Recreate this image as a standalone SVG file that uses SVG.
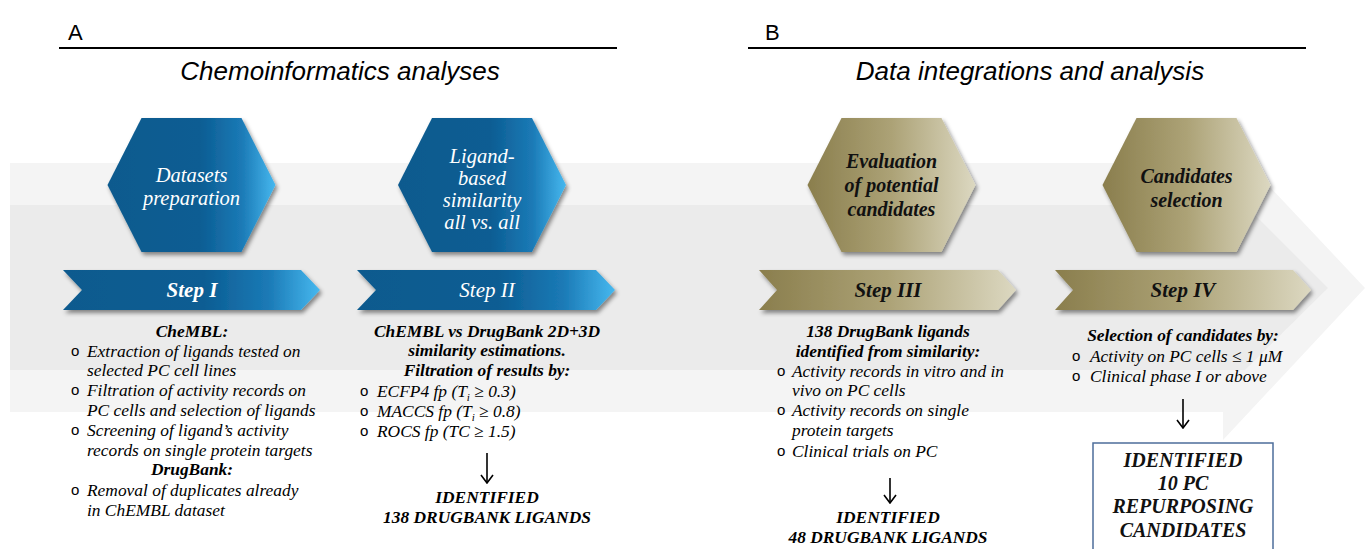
<svg xmlns="http://www.w3.org/2000/svg" width="1366" height="549" viewBox="0 0 1366 549">
<defs>
<linearGradient id="gBlue" x1="0" y1="0" x2="1" y2="0">
<stop offset="0" stop-color="#0a5a8e"/>
<stop offset="0.55" stop-color="#0c5d93"/>
<stop offset="0.8" stop-color="#1b7ab6"/>
<stop offset="1" stop-color="#46b8ef"/>
</linearGradient>
<linearGradient id="gGold" x1="0" y1="0" x2="1" y2="0">
<stop offset="0" stop-color="#8a7e4d"/>
<stop offset="0.5" stop-color="#aca276"/>
<stop offset="1" stop-color="#dcd8c1"/>
</linearGradient>
<filter id="sh" x="-10%" y="-10%" width="125%" height="130%">
<feDropShadow dx="2" dy="3" stdDeviation="2" flood-color="#000" flood-opacity="0.45"/>
</filter>
<marker id="ah" viewBox="0 0 10 14" refX="9" refY="7" markerWidth="10" markerHeight="14" markerUnits="userSpaceOnUse" orient="auto">
<path d="M1,1 L9,7 L1,13" fill="none" stroke="#000" stroke-width="1.6"/>
</marker>
</defs>
<style>
.hdr{font-family:"Liberation Sans",Arial,sans-serif;fill:#000}
.ttl{font-family:"Liberation Sans",Arial,sans-serif;font-style:italic;font-size:26px;fill:#000;text-anchor:middle}
.t{font-family:"Liberation Serif","Times New Roman",serif;font-style:italic;font-size:17.4px;fill:#000}
.b{font-weight:bold}
.c{text-anchor:middle}
.bul{font-family:"Liberation Sans",Arial,sans-serif;font-size:15px;fill:#000}
.hw{font-family:"Liberation Serif","Times New Roman",serif;font-style:italic;font-size:20.5px;fill:#fff;text-anchor:middle}
.hg{font-family:"Liberation Serif","Times New Roman",serif;font-style:italic;font-weight:bold;font-size:20px;fill:#111;text-anchor:middle}
.st{font-family:"Liberation Serif","Times New Roman",serif;font-style:italic;font-size:21px;text-anchor:middle}
.blue{fill:url(#gBlue);filter:url(#sh)}
.gold{fill:url(#gGold);filter:url(#sh)}
.conn line{stroke:#000;stroke-width:1.6;marker-end:url(#ah)}
</style>
<rect width="1366" height="549" fill="#fff"/>
<!-- background arrow -->
<polygon points="10,163 1223,163 1223,137 1365,288 1223,440 1223,412 10,412" fill="#f4f4f4"/>
<polygon points="10,205 1245,205 1328,288 1245,370 10,370" fill="#ebebeb"/>
<!-- headers -->
<text class="hdr" x="68" y="40" font-size="22">A</text>
<line x1="59" y1="48" x2="617" y2="48" stroke="#000" stroke-width="2"/>
<text class="ttl" x="340" y="80">Chemoinformatics analyses</text>
<text class="hdr" x="765" y="40" font-size="22">B</text>
<line x1="748" y1="48" x2="1306" y2="48" stroke="#000" stroke-width="2"/>
<text class="ttl" x="1030" y="80">Data integrations and analysis</text>
<!-- hexagons -->
<g id="hex1">
<polygon class="blue" points="141.5,118 241.5,118 275.5,185 241.5,252 141.5,252 107.5,185"/>
<text class="hw" x="191.5" y="182">Datasets</text>
<text class="hw" x="191.5" y="205">preparation</text>
</g>
<g id="hex2">
<polygon class="blue" points="432,118 532,118 566,185 532,252 432,252 398,185"/>
<text class="hw" x="482" y="163">Ligand-</text>
<text class="hw" x="482" y="185">based</text>
<text class="hw" x="482" y="207">similarity</text>
<text class="hw" x="482" y="229">all vs. all</text>
</g>
<g id="hex3">
<polygon class="gold" points="841.5,118 941.5,118 975.5,185 941.5,252 841.5,252 807.5,185"/>
<text class="hg" x="891.5" y="168">Evaluation</text>
<text class="hg" x="891.5" y="192">of potential</text>
<text class="hg" x="891.5" y="216">candidates</text>
</g>
<g id="hex4">
<polygon class="gold" points="1136.5,118 1236.5,118 1270.5,185 1236.5,252 1136.5,252 1102.5,185"/>
<text class="hg" x="1186.5" y="183">Candidates</text>
<text class="hg" x="1186.5" y="207">selection</text>
</g>
<!-- step banners -->
<g id="step1">
<polygon class="blue" points="63,270 301,270 320,290 301,310 63,310 82,290"/>
<text class="st b" x="192" y="297" fill="#fff">Step I</text>
</g>
<g id="step2">
<polygon class="blue" points="357,270 596,270 615,290 596,310 357,310 376,290"/>
<text class="st" x="487" y="297" fill="#fff">Step II</text>
</g>
<g id="step3">
<polygon class="gold" points="759,270 998,270 1016,290 998,310 759,310 777,290"/>
<text class="st b" x="888" y="297" fill="#111">Step III</text>
</g>
<g id="step4">
<polygon class="gold" points="1055,270 1293,270 1311,290 1293,310 1055,310 1073,290"/>
<text class="st b" x="1183" y="297" fill="#111">Step IV</text>
</g>
<!-- column 1 -->
<g id="col1">
<text class="t b c" x="192" y="337">CheMBL:</text>
<text class="bul" x="71" y="356">o</text>
<text class="t" x="87" y="357">Extraction of ligands tested on</text>
<text class="t" x="87" y="376">selected PC cell lines</text>
<text class="bul" x="71" y="395">o</text>
<text class="t" x="87" y="396">Filtration of activity records on</text>
<text class="t" x="87" y="416">PC cells and selection of ligands</text>
<text class="bul" x="71" y="435">o</text>
<text class="t" x="87" y="436">Screening of ligand’s activity</text>
<text class="t" x="87" y="456">records on single protein targets</text>
<text class="t b c" x="192" y="475">DrugBank:</text>
<text class="bul" x="71" y="495">o</text>
<text class="t" x="87" y="496">Removal of duplicates already</text>
<text class="t" x="87" y="516">in ChEMBL dataset</text>
</g>
<!-- column 2 -->
<g id="col2">
<text class="t b c" x="487" y="337">ChEMBL vs DrugBank 2D+3D</text>
<text class="t b c" x="487" y="356">similarity estimations.</text>
<text class="t b c" x="487" y="376">Filtration of results by:</text>
<text class="bul" x="360" y="396">o</text>
<text class="t" x="377" y="397">ECFP4 fp (T<tspan font-size="11" dy="4">i</tspan><tspan dy="-4"> ≥ 0.3)</tspan></text>
<text class="bul" x="360" y="416">o</text>
<text class="t" x="377" y="417">MACCS fp (T<tspan font-size="11" dy="4">i</tspan><tspan dy="-4"> ≥ 0.8)</tspan></text>
<text class="bul" x="360" y="436">o</text>
<text class="t" x="377" y="437">ROCS fp (TC ≥ 1.5)</text>
</g>
<g id="res2">
<text class="t b c" x="487" y="503">IDENTIFIED</text>
<text class="t b c" x="487" y="523">138 DRUGBANK LIGANDS</text>
</g>
<!-- column 3 -->
<g id="col3">
<text class="t b c" x="888" y="337">138 DrugBank ligands</text>
<text class="t b c" x="888" y="357">identified from similarity:</text>
<text class="bul" x="777" y="376">o</text>
<text class="t" x="792" y="377">Activity records in vitro and in</text>
<text class="t" x="792" y="396">vivo on PC cells</text>
<text class="bul" x="777" y="415">o</text>
<text class="t" x="792" y="416">Activity records on single</text>
<text class="t" x="792" y="436">protein targets</text>
<text class="bul" x="777" y="456">o</text>
<text class="t" x="792" y="457">Clinical trials on PC</text>
</g>
<g id="res3">
<text class="t b c" x="888" y="523">IDENTIFIED</text>
<text class="t b c" x="888" y="543">48 DRUGBANK LIGANDS</text>
</g>
<!-- column 4 -->
<g id="col4">
<text class="t b c" x="1183" y="341">Selection of candidates by:</text>
<text class="bul" x="1072" y="361">o</text>
<text class="t" x="1090" y="362">Activity on PC cells ≤ 1 μM</text>
<text class="bul" x="1072" y="381">o</text>
<text class="t" x="1090" y="382">Clinical phase I or above</text>
</g>
<g id="res4">
<rect x="1093" y="443" width="180" height="120" fill="#fff" stroke="#4d6e9b" stroke-width="1.5"/>
<text class="hg" x="1183" y="467">IDENTIFIED</text>
<text class="hg" x="1183" y="490">10 PC</text>
<text class="hg" x="1183" y="513">REPURPOSING</text>
<text class="hg" x="1183" y="537">CANDIDATES</text>
</g>
<!-- connectors -->
<g id="connectors" class="conn">
<line x1="487" y1="453" x2="487" y2="483"/>
<line x1="890" y1="478" x2="890" y2="503"/>
<line x1="1183" y1="399" x2="1183" y2="428"/>
</g>
</svg>
